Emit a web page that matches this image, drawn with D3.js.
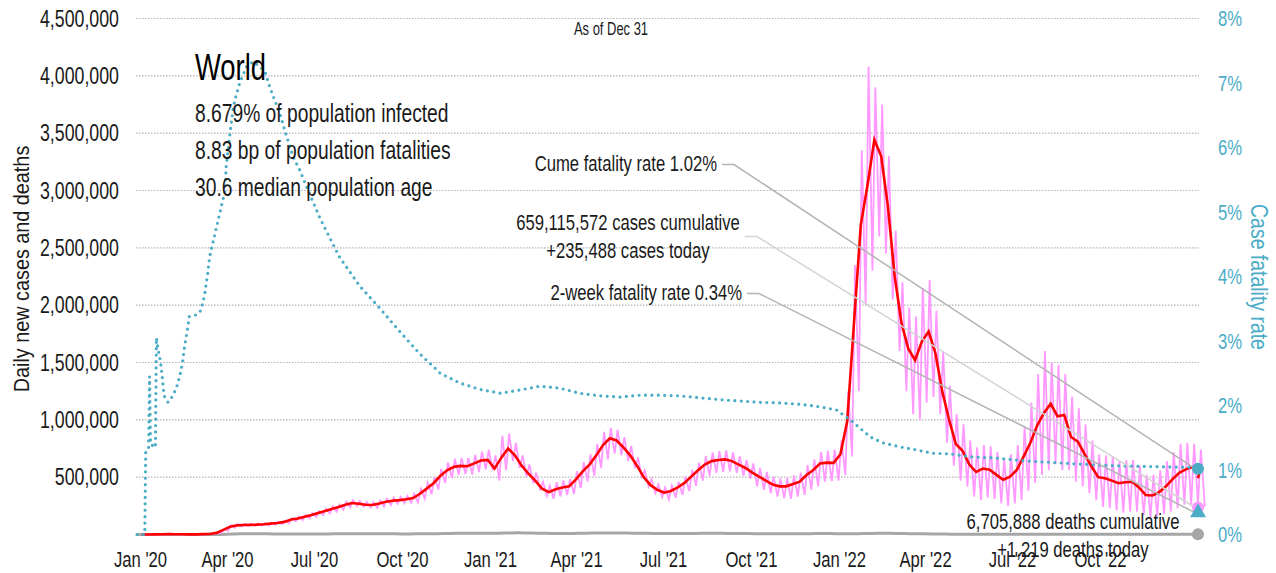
<!DOCTYPE html>
<html>
<head>
<meta charset="utf-8">
<script src="https://cdn.jsdelivr.net/npm/d3@7"></script>
<style>
  body { margin: 0; background: #fff; }
  svg { display: block; font-family: 'Liberation Sans', Arial, sans-serif; }
</style>
</head>
<body>
<svg width="1276" height="573"></svg>
<script>
// weekly series, week i starts on Monday 2020-01-06 + 7*i, values in thousands
const casesAvg = [
  0, 0, 1, 2, 3, 2, 2, 1, 1, 3,
  5, 14, 40, 68, 80, 83, 84, 86, 89, 95,
  100, 110, 130, 140, 155, 170, 187, 205, 222, 240,
  260, 275, 268, 260, 257, 270, 285, 295, 300, 307,
  318, 355, 400, 447, 510, 560, 590, 598, 595, 620,
  645, 650, 575, 670, 750, 690, 600, 530, 470, 400,
  370, 395, 410, 420, 480, 550, 610, 690, 780, 839,
  820, 760, 690, 600, 500, 430, 390, 365, 380, 410,
  450, 505, 560, 610, 640, 650, 655, 640, 610, 580,
  540, 504, 470, 435, 420, 420, 440, 461, 519, 563,
  620, 627, 625, 700, 990, 1850, 2700, 3050, 3442, 3300,
  2860, 2250, 1843, 1620, 1520, 1682, 1770, 1580, 1250, 1005,
  790, 730, 610, 545, 575, 565, 520, 478, 504, 563,
  679, 800, 950, 1060, 1140, 1030, 1043, 850, 810, 700,
  595, 500, 490, 470, 447, 455, 460, 410, 345, 340,
  370, 420, 485, 540, 570, 590, 565
];
const casesHigh = [
  0, 0, 2, 3, 4, 3, 2, 2, 2, 4,
  7, 18, 48, 78, 90, 92, 93, 95, 99, 104,
  110, 122, 142, 155, 170, 186, 205, 225, 245, 262,
  285, 300, 292, 285, 282, 296, 312, 322, 328, 336,
  356, 398, 450, 500, 572, 628, 660, 668, 668, 695,
  722, 740, 690, 860, 880, 800, 690, 610, 540, 460,
  425, 455, 472, 485, 552, 632, 700, 790, 895, 930,
  915, 850, 772, 672, 560, 482, 437, 410, 426, 460,
  505, 566, 628, 683, 716, 728, 733, 716, 683, 650,
  620, 580, 545, 505, 490, 492, 515, 540, 605, 655,
  720, 730, 740, 820, 1250, 2350, 3350, 4080, 3900, 3750,
  3300, 2650, 2200, 1980, 1900, 2150, 2220, 1950, 1600, 1300,
  1050, 960, 820, 760, 780, 770, 720, 660, 700, 780,
  940, 1150, 1400, 1600, 1500, 1480, 1400, 1200, 1100, 960,
  820, 700, 690, 680, 640, 650, 650, 600, 520, 520,
  560, 640, 720, 790, 800, 790, 740
];
const casesLow = [
  0, 0, 1, 2, 2, 2, 1, 1, 1, 2,
  4, 11, 32, 58, 70, 74, 75, 77, 80, 85,
  90, 98, 116, 126, 140, 153, 168, 185, 200, 216,
  234, 248, 242, 236, 232, 244, 258, 268, 272, 278,
  280, 312, 352, 392, 450, 492, 520, 528, 522, 545,
  568, 560, 470, 560, 640, 580, 505, 446, 395, 336,
  312, 332, 345, 352, 405, 462, 512, 580, 655, 705,
  690, 640, 580, 505, 420, 362, 328, 306, 320, 345,
  378, 424, 470, 512, 538, 546, 550, 538, 512, 487,
  420, 390, 360, 330, 315, 312, 330, 345, 390, 420,
  460, 465, 470, 520, 680, 1250, 2000, 2300, 2600, 2450,
  2050, 1600, 1250, 1050, 1000, 1150, 1200, 1050, 800, 600,
  470, 420, 330, 300, 320, 310, 270, 250, 270, 300,
  380, 450, 520, 560, 620, 560, 560, 460, 420, 360,
  300, 240, 230, 210, 190, 200, 200, 170, 150, 160,
  180, 200, 230, 260, 260, 270, 250
];
const deathsAvg = [
  0, 0, 0, 0.1, 0.1, 0.1, 0.1, 0.1, 0.1, 0.1,
  0.3, 0.8, 2, 4.5, 6.5, 7, 6.5, 6, 5.5, 5,
  4.5, 4.5, 4.5, 4.5, 4.5, 4.5, 5, 5.2, 5.5, 5.8,
  6, 6, 6, 5.8, 5.5, 5.5, 5.5, 5.5, 5.4, 5.4,
  5.6, 6, 6.5, 7.2, 8.2, 9, 10, 10.5, 11, 11.2,
  11.5, 11.8, 11.5, 13, 14, 14.2, 13.5, 12.5, 11, 10,
  9, 8.8, 8.8, 9.5, 10.5, 11.5, 12.5, 13.5, 13.8, 13.5,
  12.8, 12, 11, 10.5, 10, 9.5, 8.5, 8, 8, 8.3,
  9, 9.5, 10, 10.2, 10.2, 10, 9.5, 9, 8.5, 8,
  7.3, 7, 7, 7, 7, 7, 7.2, 7.3, 7.5, 7.8,
  7.8, 8.2, 7.5, 6.5, 6.5, 7, 8, 9.5, 10.5, 11,
  10.5, 9.5, 8.5, 7.5, 6, 5.5, 5, 4.5, 3.5, 3,
  2.8, 2.5, 2.2, 2, 1.8, 1.7, 1.7, 1.7, 1.8, 1.9,
  2, 2.2, 2.5, 2.5, 2.4, 2.3, 2.2, 2, 1.9, 1.7,
  1.6, 1.5, 1.4, 1.4, 1.4, 1.4, 1.3, 1.4, 1.5, 1.6,
  1.6, 1.6, 1.7, 1.5, 1.4, 1.3, 1.3
];

// cumulative case fatality rate, %
const cfrDates = [
  '2020-01-01', '2020-01-09', '2020-01-10', '2020-01-13', '2020-01-14', '2020-01-15',
  '2020-01-20', '2020-01-21', '2020-01-23', '2020-01-25', '2020-01-27', '2020-01-29',
  '2020-02-02', '2020-02-07', '2020-02-11', '2020-02-14', '2020-02-17', '2020-02-19',
  '2020-02-22', '2020-02-24', '2020-03-01', '2020-03-06', '2020-03-09', '2020-03-11',
  '2020-03-14', '2020-03-16', '2020-04-01', '2020-04-02', '2020-04-06', '2020-04-09',
  '2020-04-11', '2020-04-16', '2020-04-23', '2020-04-30', '2020-05-07', '2020-05-12',
  '2020-05-17', '2020-05-22', '2020-05-28', '2020-06-02', '2020-06-07', '2020-06-10',
  '2020-06-17', '2020-06-24', '2020-07-08', '2020-07-28', '2020-08-18', '2020-09-08',
  '2020-09-28', '2020-10-19', '2020-11-09', '2020-11-29', '2020-12-20', '2021-01-10',
  '2021-01-30', '2021-02-20', '2021-03-12', '2021-04-02', '2021-04-23', '2021-05-13',
  '2021-06-03', '2021-06-24', '2021-07-14', '2021-08-04', '2021-08-25', '2021-09-14',
  '2021-10-05', '2021-10-25', '2021-11-15', '2021-12-06', '2021-12-23', '2022-01-06',
  '2022-01-16', '2022-01-27', '2022-02-09', '2022-02-26', '2022-03-16', '2022-04-01',
  '2022-04-19', '2022-05-13', '2022-06-02', '2022-07-07', '2022-08-10', '2022-09-14',
  '2022-10-19', '2022-11-22', '2022-12-26', '2022-12-31'
];
const cfrValues = [
  0, 0, 1.3, 1.35, 2.45, 1.4,
  1.35, 3.05, 2.85, 2.7, 2.45, 2.15,
  2.05, 2.15, 2.29, 2.45, 2.66, 2.91,
  3.17, 3.38, 3.4, 3.45, 3.59, 3.74,
  4.05, 4.31, 5.34, 5.7, 6.22, 6.58,
  6.74, 7.0, 7.25, 7.33, 7.25, 7.18,
  6.94, 6.74, 6.5, 6.24, 6.01, 5.86,
  5.65, 5.39, 4.9, 4.3, 3.85, 3.5,
  3.15, 2.8, 2.5, 2.35, 2.25, 2.19,
  2.24, 2.3, 2.27, 2.19, 2.15, 2.13,
  2.16, 2.16, 2.15, 2.12, 2.09, 2.07,
  2.05, 2.04, 2.02, 1.98, 1.93, 1.78,
  1.65, 1.51, 1.42, 1.36, 1.31, 1.26,
  1.25, 1.2, 1.19, 1.14, 1.11, 1.08,
  1.06, 1.05, 1.04, 1.02
];

const leftTicks = [500000, 1000000, 1500000, 2000000, 2500000, 3000000, 3500000, 4000000, 4500000];
const rightTicks = [0, 1, 2, 3, 4, 5, 6, 7, 8];
const xTickDates = [
  '2020-01-01', '2020-04-01', '2020-07-01', '2020-10-01',
  '2021-01-01', '2021-04-01', '2021-07-01', '2021-10-01',
  '2022-01-01', '2022-04-01', '2022-07-01', '2022-10-01'
];
const statLines = [
  '8.679% of population infected',
  '8.83 bp of population fatalities',
  '30.6 median population age'
];

const lastDay = '2022-12-31';
const avgToday = 490000;
const casesToday = 235488;
const casesCumulative = 659115572;
const deathsToday = 1219;
const deathsCumulative = 6705888;
const cumeFatality = 1.02;
const twoWeekFatality = 0.34;

const parse = d3.timeParse('%Y-%m-%d');
const weekStart = parse('2020-01-06');
const weekDate = (i, offset) => d3.timeDay.offset(weekStart, i * 7 + offset);
const endDate = parse(lastDay);

const pink = '#ff99ff';
const red = '#ff0000';
const teal = '#4bacc6';
const grey = '#a6a6a6';
const ink = '#1a1a1a';

const svg = d3.select('svg');

// condensed look: squeeze glyphs horizontally
const squeeze = (sel, factor) => {
  sel.each(function () {
    const len = this.getComputedTextLength();
    d3.select(this).attr('textLength', len * factor).attr('lengthAdjust', 'spacingAndGlyphs');
  });
  return sel;
};

const x = d3.scaleTime().domain([parse('2020-01-01'), endDate]).range([137, 1198]);
const xLabel = d3.scaleTime()
  .domain([parse(xTickDates[0]), parse(xTickDates[xTickDates.length - 1])])
  .range([140, 1100]);
const yLeft = d3.scaleLinear().domain([0, 4500000]).range([534.5, 18.5]);
const yRight = d3.scaleLinear().domain([0, 8]).range([534.5, 18.5]);

// gridlines
svg.append('g')
  .selectAll('line')
  .data(leftTicks)
  .enter()
  .append('line')
  .attr('x1', 136)
  .attr('x2', 1199)
  .attr('y1', (d) => yLeft(d))
  .attr('y2', (d) => yLeft(d))
  .attr('stroke', '#b4b4b4')
  .attr('stroke-width', 1.2)
  .attr('stroke-dasharray', '1.5,1.5');

// axes
const leftAxis = svg.append('g')
  .attr('transform', 'translate(137,0)')
  .call(d3.axisLeft(yLeft).tickValues(leftTicks).tickSize(0).tickPadding(18).tickFormat(d3.format(',')));
const rightAxis = svg.append('g')
  .attr('transform', 'translate(1199,0)')
  .call(d3.axisRight(yRight).tickValues(rightTicks).tickSize(0).tickPadding(19).tickFormat((d) => d + '%'));
const bottomAxis = svg.append('g')
  .attr('transform', 'translate(0,534)')
  .call(d3.axisBottom(xLabel).tickValues(xTickDates.map(parse)).tickSize(0).tickPadding(17).tickFormat(d3.timeFormat("%b '%y")));

[leftAxis, rightAxis, bottomAxis].forEach((g) => {
  g.select('.domain').remove();
  g.selectAll('text').style('font-family', null).attr('font-size', 22.5).attr('fill', ink);
});
leftAxis.selectAll('text').attr('font-size', 24);
rightAxis.selectAll('text').attr('fill', teal);
[leftAxis, rightAxis, bottomAxis].forEach((g) => squeeze(g.selectAll('text'), 0.74));

squeeze(svg.append('text')
  .attr('transform', 'translate(29,269) rotate(-90)')
  .attr('text-anchor', 'middle')
  .attr('font-size', 22)
  .attr('fill', ink)
  .text('Daily new cases and deaths'), 0.9);

squeeze(svg.append('text')
  .attr('transform', 'translate(1251,277) rotate(90)')
  .attr('text-anchor', 'middle')
  .attr('font-size', 24)
  .attr('fill', teal)
  .text('Case fatality rate'), 0.81);

squeeze(svg.append('text')
  .attr('x', 611)
  .attr('y', 35)
  .attr('text-anchor', 'middle')
  .attr('font-size', 17.5)
  .attr('fill', ink)
  .text('As of Dec 31'), 0.74);

// series
const dailyPoints = [];
casesHigh.forEach((d, i) => {
  dailyPoints.push({ date: weekDate(i, 1), value: d * 1000 });
  dailyPoints.push({ date: weekDate(i, 5), value: casesLow[i] * 1000 });
});
dailyPoints.push({ date: endDate, value: casesToday });

const avgPoints = casesAvg.map((d, i) => ({ date: weekDate(i, 0), value: d * 1000 }));
avgPoints.push({ date: endDate, value: avgToday });

const deathPoints = deathsAvg.map((d, i) => ({ date: weekDate(i, 3), value: d * 1000 }));
deathPoints.unshift({ date: parse('2020-01-01'), value: 0 });
deathPoints.push({ date: endDate, value: deathsToday });

const cfrPoints = cfrDates.map((d, i) => ({ date: parse(d), value: cfrValues[i] }));

const lineLeft = d3.line().x((d) => x(d.date)).y((d) => yLeft(d.value));
const lineRight = d3.line().x((d) => x(d.date)).y((d) => yRight(d.value));

svg.append('path')
  .datum(deathPoints)
  .attr('d', lineLeft)
  .attr('fill', 'none')
  .attr('stroke', grey)
  .attr('stroke-width', 3);

svg.append('path')
  .datum(dailyPoints)
  .attr('d', lineLeft)
  .attr('fill', 'none')
  .attr('stroke', pink)
  .attr('stroke-width', 1.8);

svg.append('path')
  .datum(avgPoints)
  .attr('d', lineLeft)
  .attr('fill', 'none')
  .attr('stroke', red)
  .attr('stroke-width', 2.6);

svg.append('path')
  .datum(cfrPoints)
  .attr('d', lineRight)
  .attr('fill', 'none')
  .attr('stroke', teal)
  .attr('stroke-width', 3.2)
  .attr('stroke-linecap', 'round')
  .attr('stroke-dasharray', '0,6.4');

// legend block
squeeze(svg.append('text')
  .attr('x', 195)
  .attr('y', 80)
  .attr('font-size', 37)
  .attr('fill', '#000')
  .text('World'), 0.74);

squeeze(svg.append('g')
  .selectAll('text')
  .data(statLines)
  .enter()
  .append('text')
  .attr('x', 195)
  .attr('y', (d, i) => 121.5 + i * 37)
  .attr('font-size', 26)
  .attr('fill', ink)
  .text((d) => d), 0.74);

// end markers
const endX = x(endDate);
const cumeY = yRight(cumeFatality);
const casesY = yLeft(casesToday);
const twoWeekY = yRight(twoWeekFatality);
const deathsY = yLeft(deathsToday);

const leaders = svg.append('g');
const markers = svg.append('g');

// annotations with leader lines
const annotate = (lines, anchor, ax, ay, tx, ty, colour) => {
  const g = svg.append('g');
  lines.forEach((t, i) => {
    squeeze(g.append('text')
      .attr('x', ax)
      .attr('y', ay + i * 28)
      .attr('text-anchor', anchor)
      .attr('font-size', 22.5)
      .attr('fill', ink)
      .text(t), 0.74);
  });
  if (colour) {
    const box = g.node().getBBox();
    const first = g.select('text').node().getBBox();
    const sx = box.x + box.width + 5;
    const sy = anchor === 'middle' ? box.y + box.height / 2 : first.y + first.height / 2 + 1;
    leaders.append('path')
      .attr('d', `M${sx},${sy}L${sx + 12},${sy}L${tx},${ty}`)
      .attr('fill', 'none')
      .attr('stroke', colour)
      .attr('stroke-width', 1.5);
  }
};

const fmt = d3.format(',');
annotate(['Cume fatality rate ' + cumeFatality.toFixed(2) + '%'], 'end', 717, 171, endX - 3, cumeY, '#b3b3b3');
annotate([fmt(casesCumulative) + ' cases cumulative', '+' + fmt(casesToday) + ' cases today'], 'middle', 628, 230, endX - 3, casesY, '#d4d4d4');
annotate(['2-week fatality rate ' + twoWeekFatality.toFixed(2) + '%'], 'end', 742, 300, endX - 3, twoWeekY, '#b3b3b3');
annotate([fmt(deathsCumulative) + ' deaths cumulative', '+' + fmt(deathsToday) + ' deaths today'], 'middle', 1073, 528.5, 0, 0, null);

markers.append('circle').attr('cx', endX).attr('cy', cumeY).attr('r', 6).attr('fill', teal);
markers.append('circle').attr('cx', endX).attr('cy', casesY).attr('r', 6).attr('fill', pink);
markers.append('path')
  .attr('transform', `translate(${endX},${twoWeekY})`)
  .attr('d', d3.symbol().type(d3.symbolTriangle).size(110))
  .attr('fill', teal);
markers.append('circle').attr('cx', endX).attr('cy', deathsY).attr('r', 6).attr('fill', grey);
</script>
</body>
</html>
